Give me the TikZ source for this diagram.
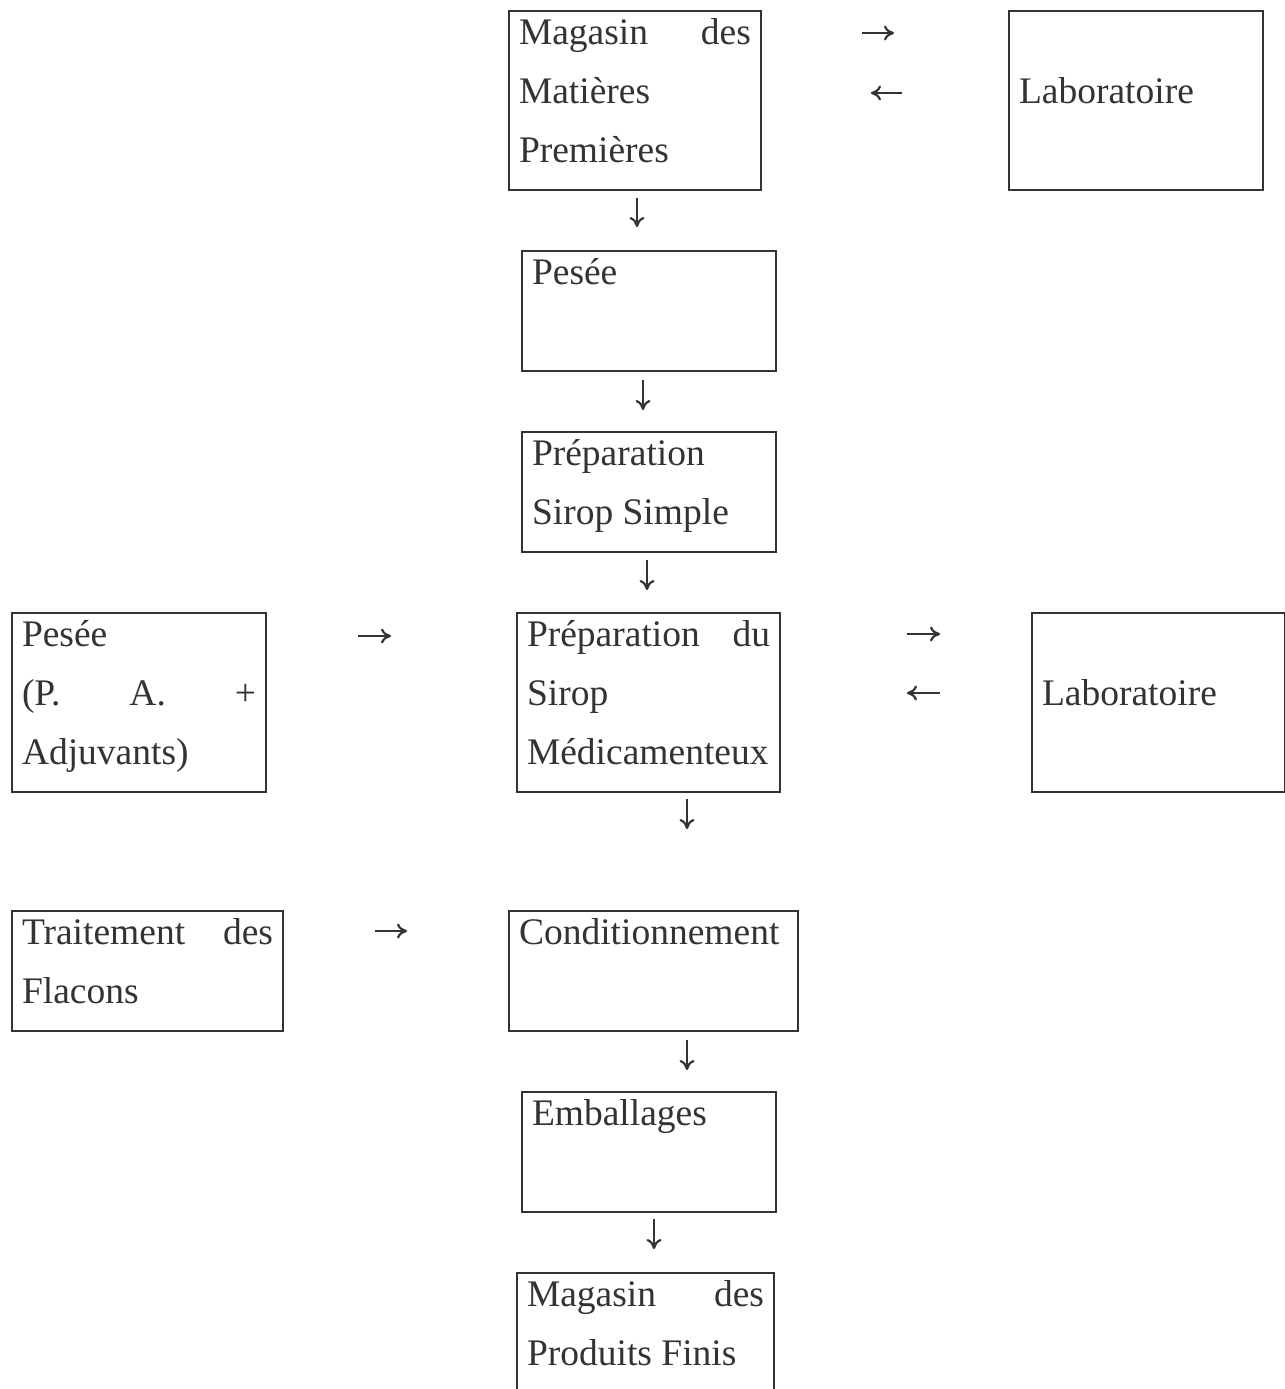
\documentclass[tikz,border=0pt]{standalone}
\usepackage{fontspec}
\setmainfont{Liberation Serif}
\usepackage{tikz}
\usetikzlibrary{arrows.meta}

\definecolor{encre}{HTML}{333333}
\setlength{\parindent}{0pt}
\newcommand{\ligne}{\rule[-13.25pt]{0pt}{29.5pt}}

\tikzset{
	etape/.style={draw=encre, line width=1pt, anchor=north west, align=flush left, text width=#1, inner xsep=5pt, inner ysep=0.5pt, text=encre, font=\fontsize{18.75pt}{29.5pt}\selectfont},
	fleche/.style={-{To[length=5pt,width=7.5pt,line width=1.1pt]}, draw=encre, line width=0.8pt}
}

\begin{document}
\begin{tikzpicture}[x=0.5pt,y=-0.5pt]
	
	\useasboundingbox (0,0) rectangle (1285,1389);
	\clip (0,0) rectangle (1285,1389);
	
	\node[etape=116pt] (mmp) at (508, 10)       {Magasin\hfill des\ligne\\Matières\ligne\\Premières\ligne};
	\node[etape=117pt] (labo1) at (1008, 10)    {\ligne\\Laboratoire\ligne\\\ligne};
	\node[etape=117pt] (pesee) at (521, 250)    {Pesée\ligne\\\ligne};
	\node[etape=117pt] (sirop) at (521, 431)    {Préparation\ligne\\Sirop Simple\ligne};
	\node[etape=117pt] (pa) at (11, 612)        {Pesée\ligne\\(P.\hfill A.\hfill +\ligne\\Adjuvants)\ligne};
	\node[etape=121.5pt] (med) at (516, 612)    {Préparation\hfill du\ligne\\Sirop\ligne\\Médicamenteux\ligne};
	\node[etape=116.5pt] (labo2) at (1031, 612) {\ligne\\Laboratoire\ligne\\\ligne};
	\node[etape=125.5pt] (flacons) at (11, 910) {Traitement\hfill des\ligne\\Flacons\ligne};
	\node[etape=134.5pt] (cond) at (508, 910)   {Conditionnement\ligne\\\ligne};
	\node[etape=117pt] (emb) at (521, 1091)     {Emballages\ligne\\\ligne};
	\node[etape=118.5pt] (mpf) at (516, 1272)   {Magasin\hfill des\ligne\\Produits Finis\ligne};
	
	\coordinate (a1) at (862, 33);    \coordinate (b1) at (894, 33);
	\coordinate (a2) at (902, 93);    \coordinate (b2) at (871, 93);
	\coordinate (a3) at (637, 198);   \coordinate (b3) at (637, 227);
	\coordinate (a4) at (643, 380);   \coordinate (b4) at (643, 410);
	\coordinate (a5) at (647, 560);   \coordinate (b5) at (647, 590);
	\coordinate (a6) at (358, 636);   \coordinate (b6) at (391, 636);
	\coordinate (a7) at (907, 634);   \coordinate (b7) at (940, 634);
	\coordinate (a8) at (940, 693);   \coordinate (b8) at (907, 693);
	\coordinate (a9) at (687, 799);   \coordinate (b9) at (687, 829);
	\coordinate (a10) at (375, 931);  \coordinate (b10) at (407, 931);
	\coordinate (a11) at (687, 1040); \coordinate (b11) at (687, 1070);
	\coordinate (a12) at (654, 1219); \coordinate (b12) at (654, 1249);
	
	\draw[fleche] (a1) -- (b1);
	\draw[fleche] (a2) -- (b2);
	\draw[fleche] (a3) -- (b3);
	\draw[fleche] (a4) -- (b4);
	\draw[fleche] (a5) -- (b5);
	\draw[fleche] (a6) -- (b6);
	\draw[fleche] (a7) -- (b7);
	\draw[fleche] (a8) -- (b8);
	\draw[fleche] (a9) -- (b9);
	\draw[fleche] (a10) -- (b10);
	\draw[fleche] (a11) -- (b11);
	\draw[fleche] (a12) -- (b12);

\end{tikzpicture}
\end{document}
